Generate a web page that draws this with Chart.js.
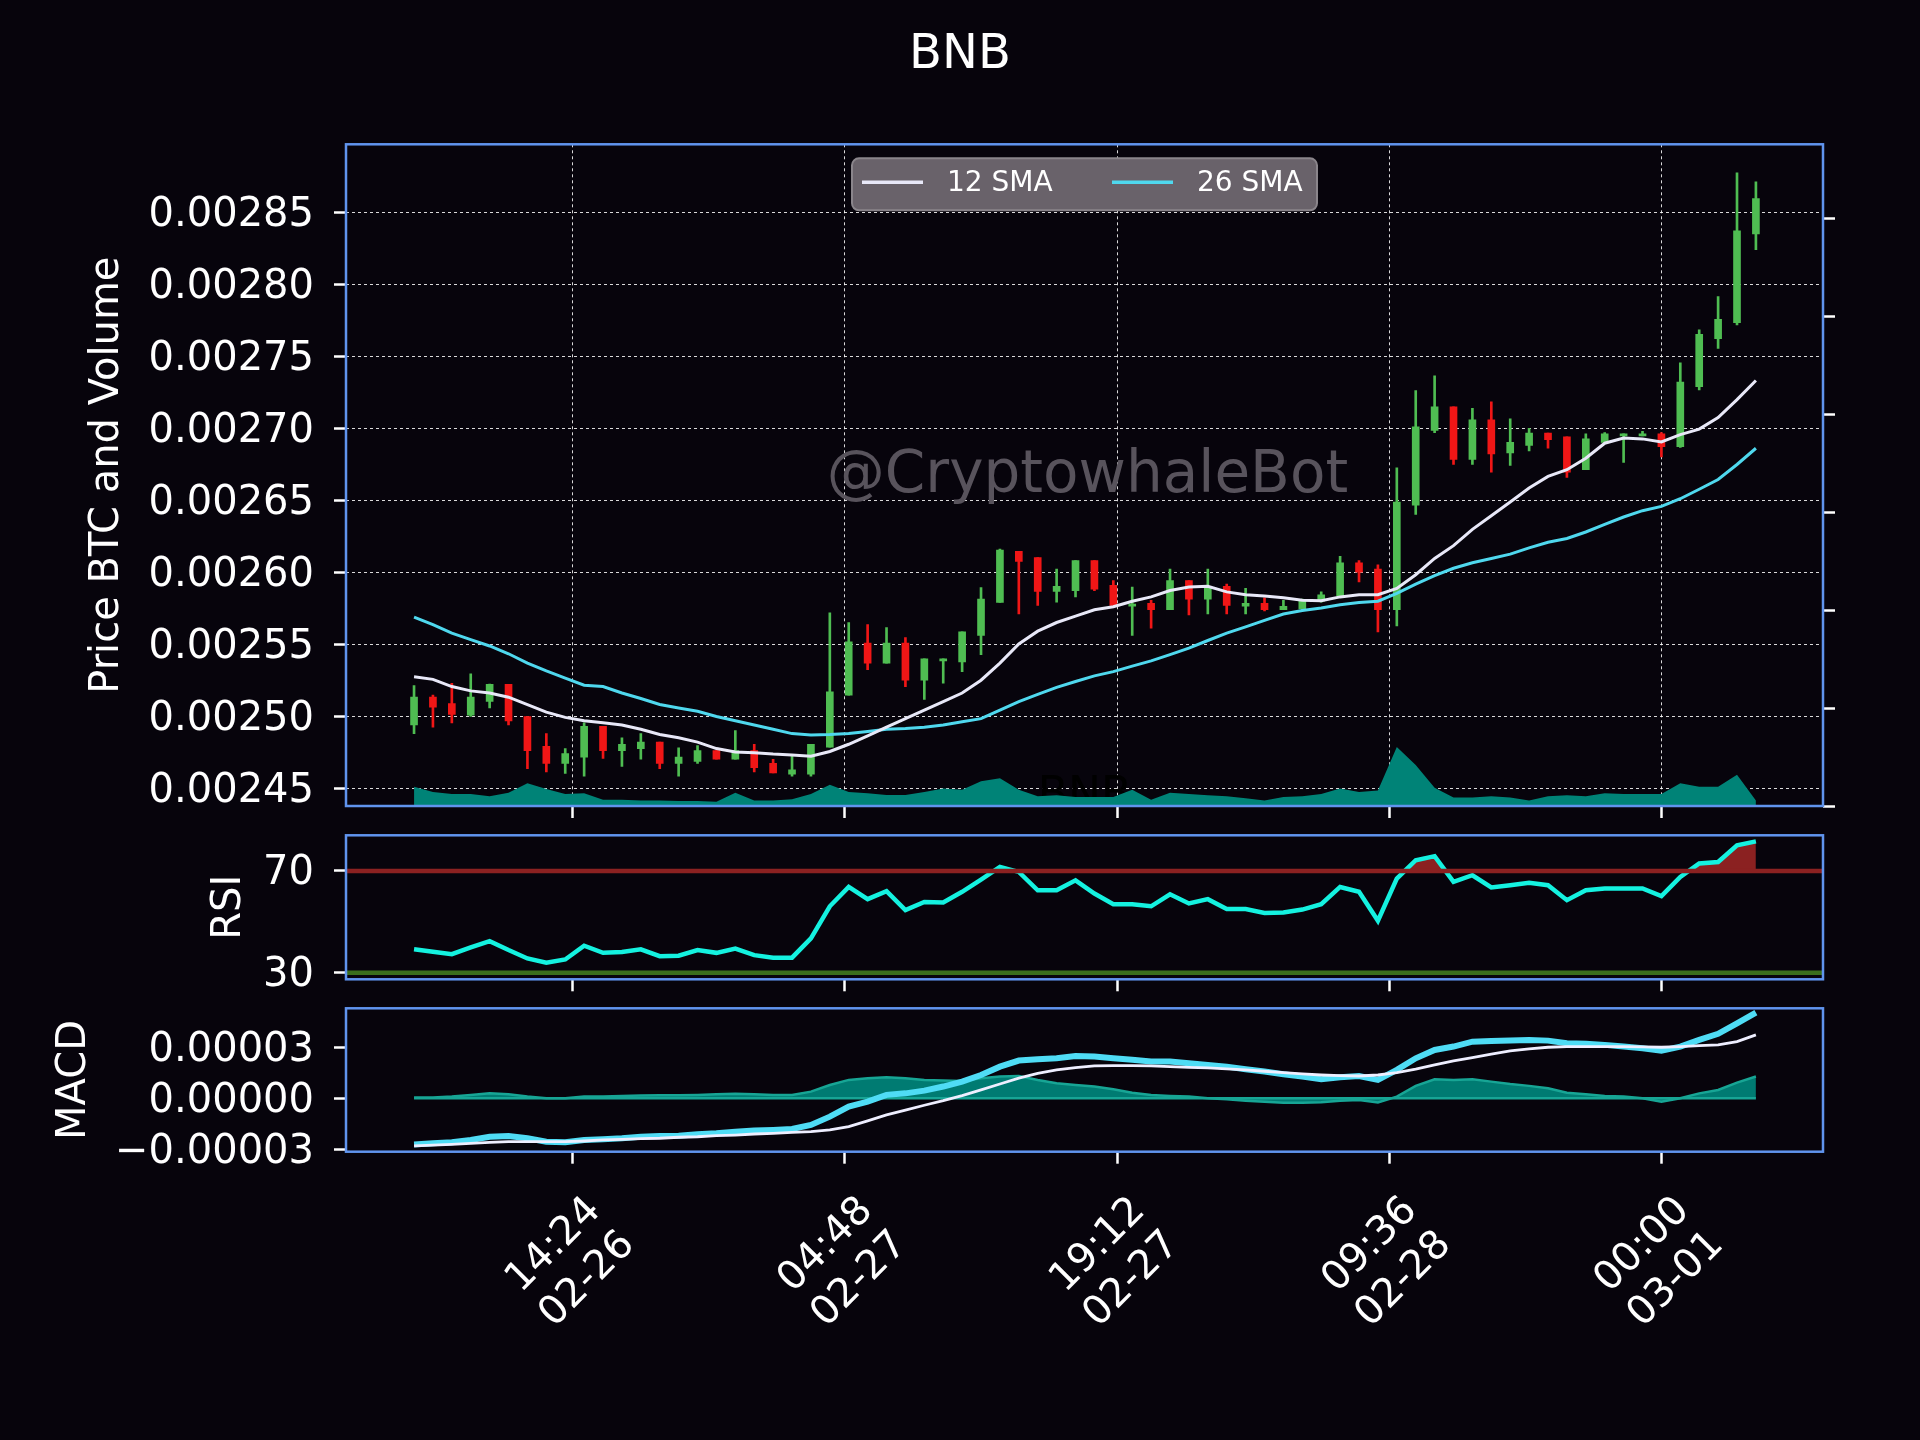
<!DOCTYPE html>
<html>
<head>
<meta charset="utf-8">
<script src="https://cdn.jsdelivr.net/npm/chart.js@4.4.0/dist/chart.umd.min.js"></script>
<style>
  body { margin: 0; background: #07040c; }
  #wrap { position: relative; width: 1920px; height: 1440px; background: #07040c; }
  canvas { position: absolute; left: 0; }
</style>
</head>
<body>
<div id="wrap">
  <canvas id="priceChart" width="1920" height="830" style="top:0"></canvas>
  <canvas id="rsiChart" width="1920" height="170" style="top:830px"></canvas>
  <canvas id="macdChart" width="1920" height="440" style="top:1000px"></canvas>
</div>
<script>
const times = [
  '02-26 06:00', '02-26 07:00', '02-26 08:00', '02-26 09:00', '02-26 10:00', '02-26 11:00',
  '02-26 12:00', '02-26 13:00', '02-26 14:00', '02-26 15:00', '02-26 16:00', '02-26 17:00',
  '02-26 18:00', '02-26 19:00', '02-26 20:00', '02-26 21:00', '02-26 22:00', '02-26 23:00',
  '02-27 00:00', '02-27 01:00', '02-27 02:00', '02-27 03:00', '02-27 04:00', '02-27 05:00',
  '02-27 06:00', '02-27 07:00', '02-27 08:00', '02-27 09:00', '02-27 10:00', '02-27 11:00',
  '02-27 12:00', '02-27 13:00', '02-27 14:00', '02-27 15:00', '02-27 16:00', '02-27 17:00',
  '02-27 18:00', '02-27 19:00', '02-27 20:00', '02-27 21:00', '02-27 22:00', '02-27 23:00',
  '02-28 00:00', '02-28 01:00', '02-28 02:00', '02-28 03:00', '02-28 04:00', '02-28 05:00',
  '02-28 06:00', '02-28 07:00', '02-28 08:00', '02-28 09:00', '02-28 10:00', '02-28 11:00',
  '02-28 12:00', '02-28 13:00', '02-28 14:00', '02-28 15:00', '02-28 16:00', '02-28 17:00',
  '02-28 18:00', '02-28 19:00', '02-28 20:00', '02-28 21:00', '02-28 22:00', '02-28 23:00',
  '03-01 00:00', '03-01 01:00', '03-01 02:00', '03-01 03:00', '03-01 04:00', '03-01 05:00'
];

const open = [
  0.0024940, 0.0025133, 0.0025088, 0.0025008, 0.0025103, 0.0025222, 0.0024999, 0.0024791, 0.0024673, 0.0024717, 0.0024931, 0.0024762,
  0.0024776, 0.0024821, 0.0024673, 0.0024687, 0.0024762, 0.0024702, 0.0024762, 0.0024673, 0.0024598, 0.0024598, 0.0024785, 0.0025147,
  0.0025509, 0.0025370, 0.0025509, 0.0025251, 0.0025385, 0.0025379, 0.0025563, 0.0025791, 0.0026147, 0.0026103, 0.0025868, 0.0025874,
  0.0026082, 0.0025910, 0.0025765, 0.0025785, 0.0025741, 0.0025943, 0.0025815, 0.0025904, 0.0025765, 0.0025785, 0.0025741, 0.0025747,
  0.0025800, 0.0025836, 0.0026067, 0.0026023, 0.0025741, 0.0026468, 0.0026987, 0.0027150, 0.0026785, 0.0027061, 0.0026830, 0.0026883,
  0.0026969, 0.0026943, 0.0026714, 0.0026904, 0.0026949, 0.0026949, 0.0026963, 0.0026874, 0.0027290, 0.0027625, 0.0027735, 0.0028352
];
const high = [
  0.0025213, 0.0025147, 0.0025230, 0.0025296, 0.0025225, 0.0025222, 0.0024999, 0.0024880, 0.0024776, 0.0024955, 0.0024931, 0.0024851,
  0.0024880, 0.0024821, 0.0024782, 0.0024797, 0.0024762, 0.0024901, 0.0024806, 0.0024702, 0.0024732, 0.0024806, 0.0025720, 0.0025652,
  0.0025637, 0.0025616, 0.0025548, 0.0025400, 0.0025400, 0.0025587, 0.0025895, 0.0026162, 0.0026147, 0.0026103, 0.0026023, 0.0026082,
  0.0026082, 0.0025943, 0.0025898, 0.0025806, 0.0026023, 0.0025943, 0.0026023, 0.0025919, 0.0025889, 0.0025824, 0.0025806, 0.0025815,
  0.0025865, 0.0026112, 0.0026082, 0.0026052, 0.0026726, 0.0027263, 0.0027367, 0.0027150, 0.0027141, 0.0027186, 0.0027067, 0.0027002,
  0.0026969, 0.0026943, 0.0026963, 0.0026972, 0.0026963, 0.0026981, 0.0026972, 0.0027456, 0.0027685, 0.0027916, 0.0028777, 0.0028714
];
const low = [
  0.0024880, 0.0024925, 0.0024955, 0.0024999, 0.0025058, 0.0024940, 0.0024637, 0.0024613, 0.0024604, 0.0024584, 0.0024708, 0.0024652,
  0.0024702, 0.0024637, 0.0024584, 0.0024673, 0.0024702, 0.0024702, 0.0024613, 0.0024607, 0.0024584, 0.0024584, 0.0024785, 0.0025147,
  0.0025325, 0.0025370, 0.0025207, 0.0025118, 0.0025230, 0.0025311, 0.0025429, 0.0025791, 0.0025711, 0.0025771, 0.0025794, 0.0025830,
  0.0025874, 0.0025771, 0.0025563, 0.0025613, 0.0025741, 0.0025705, 0.0025711, 0.0025711, 0.0025711, 0.0025732, 0.0025741, 0.0025741,
  0.0025794, 0.0025836, 0.0025934, 0.0025587, 0.0025628, 0.0026403, 0.0026972, 0.0026750, 0.0026750, 0.0026696, 0.0026744, 0.0026845,
  0.0026863, 0.0026661, 0.0026714, 0.0026904, 0.0026765, 0.0026949, 0.0026803, 0.0026868, 0.0027269, 0.0027557, 0.0027720, 0.0028242
];
const close = [
  0.0025133, 0.0025064, 0.0025014, 0.0025133, 0.0025222, 0.0024969, 0.0024762, 0.0024673, 0.0024741, 0.0024931, 0.0024762, 0.0024806,
  0.0024821, 0.0024673, 0.0024717, 0.0024762, 0.0024702, 0.0024762, 0.0024643, 0.0024607, 0.0024628, 0.0024806, 0.0025171, 0.0025518,
  0.0025370, 0.0025509, 0.0025251, 0.0025400, 0.0025400, 0.0025587, 0.0025815, 0.0026156, 0.0026076, 0.0025868, 0.0025904, 0.0026082,
  0.0025883, 0.0025771, 0.0025780, 0.0025741, 0.0025943, 0.0025815, 0.0025904, 0.0025771, 0.0025785, 0.0025741, 0.0025765, 0.0025800,
  0.0025845, 0.0026067, 0.0026002, 0.0025741, 0.0026489, 0.0027011, 0.0027150, 0.0026785, 0.0027061, 0.0026824, 0.0026904, 0.0026969,
  0.0026922, 0.0026696, 0.0026928, 0.0026963, 0.0026963, 0.0026963, 0.0026874, 0.0027322, 0.0027655, 0.0027759, 0.0028373, 0.0028598
];
const sma12 = [
  0.0025275, 0.0025257, 0.0025207, 0.0025177, 0.0025162, 0.0025133, 0.0025082, 0.0025029, 0.0024993, 0.0024969, 0.0024955, 0.0024940,
  0.0024910, 0.0024874, 0.0024851, 0.0024821, 0.0024776, 0.0024753, 0.0024747, 0.0024738, 0.0024732, 0.0024723, 0.0024756, 0.0024806,
  0.0024865, 0.0024925, 0.0024984, 0.0025044, 0.0025103, 0.0025162, 0.0025251, 0.0025370, 0.0025503, 0.0025592, 0.0025652, 0.0025696,
  0.0025741, 0.0025762, 0.0025800, 0.0025830, 0.0025874, 0.0025898, 0.0025904, 0.0025865, 0.0025845, 0.0025836, 0.0025824, 0.0025806,
  0.0025803, 0.0025830, 0.0025845, 0.0025845, 0.0025889, 0.0025984, 0.0026097, 0.0026186, 0.0026299, 0.0026394, 0.0026489, 0.0026587,
  0.0026667, 0.0026714, 0.0026794, 0.0026898, 0.0026934, 0.0026928, 0.0026907, 0.0026958, 0.0026996, 0.0027076, 0.0027201, 0.0027334
];
const sma26 = [
  0.0025690, 0.0025637, 0.0025578, 0.0025533, 0.0025489, 0.0025435, 0.0025370, 0.0025316, 0.0025266, 0.0025216, 0.0025207, 0.0025162,
  0.0025124, 0.0025082, 0.0025058, 0.0025035, 0.0024999, 0.0024969, 0.0024940, 0.0024910, 0.0024880, 0.0024871, 0.0024874, 0.0024880,
  0.0024895, 0.0024910, 0.0024916, 0.0024925, 0.0024940, 0.0024963, 0.0024984, 0.0025044, 0.0025103, 0.0025153, 0.0025201, 0.0025242,
  0.0025281, 0.0025311, 0.0025349, 0.0025385, 0.0025429, 0.0025474, 0.0025527, 0.0025578, 0.0025622, 0.0025667, 0.0025711, 0.0025735,
  0.0025753, 0.0025776, 0.0025791, 0.0025800, 0.0025854, 0.0025919, 0.0025978, 0.0026029, 0.0026067, 0.0026097, 0.0026127, 0.0026171,
  0.0026210, 0.0026236, 0.0026281, 0.0026334, 0.0026385, 0.0026429, 0.0026459, 0.0026512, 0.0026578, 0.0026646, 0.0026750, 0.0026863
];
const volume = [
  19.6, 14.4, 12.2, 12.2, 10.0, 13.5, 23.1, 17.4, 12.2, 13.1, 6.5, 6.5,
  5.7, 5.7, 5.2, 5.2, 4.4, 13.5, 5.7, 5.7, 7.0, 12.2, 21.8, 14.4,
  13.1, 11.3, 11.3, 14.4, 17.9, 16.6, 25.3, 28.3, 16.6, 10.0, 10.9, 9.2,
  9.2, 9.2, 16.6, 6.5, 13.5, 12.2, 10.9, 10.0, 7.8, 5.7, 9.2, 10.0,
  12.2, 17.9, 14.4, 15.7, 60.2, 41.9, 18.7, 8.7, 8.7, 10.0, 8.7, 5.7,
  10.0, 10.9, 10.0, 13.1, 12.2, 12.2, 12.2, 23.1, 19.6, 19.6, 31.8, 5.7
];
const rsi = [
  39.2, 38.2, 37.3, 39.9, 42.4, 38.9, 35.6, 33.9, 35.2, 40.6, 37.8, 38.1,
  39.2, 36.5, 36.7, 38.9, 37.8, 39.5, 36.9, 35.9, 35.9, 43.5, 56.1, 63.7,
  58.9, 62.0, 54.6, 57.8, 57.6, 61.8, 66.6, 71.6, 69.6, 62.4, 62.4, 66.3,
  61.1, 56.9, 56.9, 56.1, 60.8, 57.2, 58.9, 55.0, 55.0, 53.5, 53.7, 54.8,
  56.9, 63.7, 61.8, 50.4, 67.0, 74.2, 75.8, 65.7, 68.3, 63.5, 64.4, 65.3,
  64.4, 58.5, 62.4, 63.1, 63.1, 63.1, 60.1, 67.6, 72.9, 73.5, 80.1, 81.6
];
const macd = [
  -2.71e-5, -2.65e-5, -2.59e-5, -2.45e-5, -2.26e-5, -2.22e-5, -2.35e-5, -2.55e-5, -2.59e-5, -2.45e-5, -2.41e-5, -2.35e-5,
  -2.26e-5, -2.22e-5, -2.20e-5, -2.12e-5, -2.06e-5, -1.96e-5, -1.90e-5, -1.86e-5, -1.80e-5, -1.57e-5, -1.08e-5, -0.49e-5,
  -0.20e-5, 0.20e-5, 0.29e-5, 0.45e-5, 0.69e-5, 0.98e-5, 1.37e-5, 1.86e-5, 2.22e-5, 2.29e-5, 2.35e-5, 2.49e-5,
  2.45e-5, 2.35e-5, 2.26e-5, 2.16e-5, 2.16e-5, 2.06e-5, 1.96e-5, 1.86e-5, 1.71e-5, 1.57e-5, 1.41e-5, 1.28e-5,
  1.12e-5, 1.24e-5, 1.31e-5, 1.08e-5, 1.67e-5, 2.35e-5, 2.84e-5, 3.04e-5, 3.33e-5, 3.37e-5, 3.39e-5, 3.43e-5,
  3.39e-5, 3.24e-5, 3.20e-5, 3.14e-5, 3.04e-5, 2.94e-5, 2.80e-5, 3.04e-5, 3.43e-5, 3.79e-5, 4.41e-5, 5.04e-5
];
const signal = [
  -2.80e-5, -2.75e-5, -2.71e-5, -2.65e-5, -2.59e-5, -2.55e-5, -2.55e-5, -2.55e-5, -2.55e-5, -2.51e-5, -2.45e-5, -2.41e-5,
  -2.37e-5, -2.35e-5, -2.29e-5, -2.26e-5, -2.20e-5, -2.16e-5, -2.10e-5, -2.06e-5, -2.00e-5, -1.96e-5, -1.86e-5, -1.67e-5,
  -1.33e-5, -0.98e-5, -0.69e-5, -0.41e-5, -0.14e-5, 0.16e-5, 0.49e-5, 0.84e-5, 1.18e-5, 1.47e-5, 1.67e-5, 1.80e-5,
  1.90e-5, 1.92e-5, 1.92e-5, 1.90e-5, 1.86e-5, 1.82e-5, 1.79e-5, 1.73e-5, 1.67e-5, 1.59e-5, 1.51e-5, 1.43e-5,
  1.37e-5, 1.33e-5, 1.31e-5, 1.37e-5, 1.51e-5, 1.71e-5, 1.96e-5, 2.20e-5, 2.39e-5, 2.59e-5, 2.79e-5, 2.90e-5,
  3.00e-5, 3.04e-5, 3.04e-5, 3.04e-5, 3.04e-5, 3.02e-5, 3.00e-5, 3.04e-5, 3.10e-5, 3.14e-5, 3.33e-5, 3.73e-5
];
const hist = [
  0.04e-5, 0.04e-5, 0.10e-5, 0.20e-5, 0.29e-5, 0.24e-5, 0.10e-5, 0, 0, 0.10e-5, 0.10e-5, 0.14e-5,
  0.16e-5, 0.18e-5, 0.18e-5, 0.20e-5, 0.24e-5, 0.26e-5, 0.24e-5, 0.20e-5, 0.20e-5, 0.39e-5, 0.78e-5, 1.08e-5,
  1.18e-5, 1.24e-5, 1.18e-5, 1.08e-5, 1.04e-5, 1.02e-5, 1.18e-5, 1.28e-5, 1.31e-5, 1.08e-5, 0.88e-5, 0.78e-5,
  0.69e-5, 0.53e-5, 0.33e-5, 0.20e-5, 0.14e-5, 0.10e-5, 0, -0.06e-5, -0.14e-5, -0.20e-5, -0.26e-5, -0.26e-5,
  -0.24e-5, -0.14e-5, -0.10e-5, -0.24e-5, 0.10e-5, 0.73e-5, 1.12e-5, 1.08e-5, 1.12e-5, 0.98e-5, 0.84e-5, 0.73e-5,
  0.59e-5, 0.33e-5, 0.24e-5, 0.14e-5, 0.10e-5, 0, -0.20e-5, 0, 0.29e-5, 0.49e-5, 0.92e-5, 1.28e-5
];

const tickTimes = ['02-26 14:24', '02-27 04:48', '02-27 19:12', '02-28 09:36', '03-01 00:00'];
const priceTicks = [0.00245, 0.0025, 0.00255, 0.0026, 0.00265, 0.0027, 0.00275, 0.0028, 0.00285];
const volumeTicks = [0, 100, 200, 300, 400, 500, 600];
const rsiTicks = [30, 70];
const macdTicks = [-0.00003, 0, 0.00003];
const legendLabels = ['12 SMA', '26 SMA'];

// hours since 02-26 00:00
const dayStart = { '02-26': 0, '02-27': 24, '02-28': 48, '03-01': 72 };
const hourOf = t => dayStart[t.slice(0, 5)] + Number(t.slice(6, 8)) + Number(t.slice(9, 11)) / 60;
const xs = times.map(hourOf);
const tickHours = tickTimes.map(hourOf);
const tickLabels = tickTimes.map(t => [t.slice(6), t.slice(0, 5)]);
const xMin = 2.4, xMax = 80.55;

const pts = arr => xs.map((x, i) => ({ x, y: arr[i] }));

Chart.defaults.font.family = "'DejaVu Sans', sans-serif";
Chart.defaults.color = '#ffffff';
Chart.defaults.animation = false;
Chart.defaults.elements.point.radius = 0;
Chart.defaults.plugins.legend.display = false;
Chart.defaults.plugins.tooltip.enabled = false;

const FRAME = '#6094ee';
const GREEN = '#4fbd52';
const RED = '#f01616';
const candleColors = close.map((c, i) => c >= open[i] ? GREEN : RED);

const frame = {
  id: 'frame',
  afterDraw(chart) {
    const { ctx, chartArea: a } = chart;
    ctx.save();
    ctx.strokeStyle = FRAME;
    ctx.lineWidth = 2.5;
    ctx.strokeRect(a.left, a.top, a.right - a.left, a.bottom - a.top);
    ctx.restore();
  }
};

const marks = {
  id: 'marks',
  beforeDatasetsDraw(chart) {
    const { ctx, chartArea: a } = chart;
    const cx = (a.left + a.right) / 2;
    ctx.save();
    ctx.beginPath();
    ctx.rect(a.left, a.top, a.right - a.left, a.bottom - a.top);
    ctx.clip();
    ctx.textAlign = 'center';
    ctx.textBaseline = 'alphabetic';
    ctx.fillStyle = '#58535c';
    ctx.font = "58px 'DejaVu Sans'";
    ctx.fillText('@CryptowhaleBot', cx + 3, a.top + 348);
    ctx.fillStyle = '#000000';
    ctx.font = "44px 'DejaVu Sans'";
    ctx.fillText('BNB', cx, a.bottom + 2);
    ctx.restore();
  }
};

const smaLegend = {
  id: 'smaLegend',
  afterDatasetsDraw(chart) {
    const { ctx, chartArea: a } = chart;
    const w = 465, h = 52;
    const x0 = (a.left + a.right) / 2 - w / 2, y0 = a.top + 14;
    ctx.save();
    ctx.beginPath();
    ctx.roundRect(x0, y0, w, h, 7);
    ctx.fillStyle = '#69626a';
    ctx.fill();
    ctx.lineWidth = 2;
    ctx.strokeStyle = '#8a858b';
    ctx.stroke();
    ctx.font = "28px 'DejaVu Sans'";
    ctx.textBaseline = 'middle';
    ctx.textAlign = 'left';
    legendLabels.forEach((lbl, i) => {
      const ds = chart.data.datasets.find(d => d.label === lbl);
      const lx = x0 + 10 + i * 250, ly = y0 + 24;
      ctx.strokeStyle = ds.borderColor;
      ctx.lineWidth = 3.5;
      ctx.beginPath();
      ctx.moveTo(lx, ly);
      ctx.lineTo(lx + 61, ly);
      ctx.stroke();
      ctx.fillStyle = '#ffffff';
      ctx.fillText(lbl, lx + 85, ly + 1);
    });
    ctx.restore();
  }
};

const setTicks = list => scale => { scale.ticks = list.map(v => ({ value: v })); };
const fixWidth = w => s => { s.width = w; s.paddingTop = 0; s.paddingBottom = 0; };
const fixHeight = h => s => { s.height = h; s.paddingLeft = 0; s.paddingRight = 0; };

const tickGrid = { drawOnChartArea: false, tickLength: 12, tickWidth: 2.5, tickColor: '#ffffff', offset: false };
const dotGrid = { color: 'rgba(255,255,255,0.85)', lineWidth: 1, tickLength: 12, tickWidth: 2.5, tickColor: '#ffffff', offset: false };
const axisTitle = (text, pad) => ({ display: true, text, color: '#ffffff', font: { size: 40 }, padding: { top: pad, bottom: 0 } });
const yTickFont = { color: '#ffffff', font: { size: 40 }, padding: 20, labelOffset: 3 };

// price, volume and moving averages
new Chart(document.getElementById('priceChart'), {
  type: 'bar',
  data: {
    datasets: [
      {
        type: 'line', label: 'Volume', data: pts(volume), yAxisID: 'yVol',
        fill: 'origin', backgroundColor: '#008377', borderWidth: 0, order: 5
      },
      {
        label: 'Wick', data: xs.map((x, i) => ({ x, y: [low[i], high[i]] })),
        backgroundColor: candleColors, barThickness: 2, grouped: false, order: 4
      },
      {
        label: 'Body', data: xs.map((x, i) => ({ x, y: [open[i], close[i]] })),
        backgroundColor: candleColors, barThickness: 7, minBarLength: 2, grouped: false, order: 3
      },
      {
        type: 'line', label: '26 SMA', data: pts(sma26),
        borderColor: '#4fd8ee', borderWidth: 3, order: 2
      },
      {
        type: 'line', label: '12 SMA', data: pts(sma12),
        borderColor: '#e8e8f8', borderWidth: 3, order: 1
      }
    ]
  },
  options: {
    responsive: false,
    devicePixelRatio: 1,
    layout: { autoPadding: false, padding: 0 },
    plugins: {
      title: {
        display: true, text: 'BNB', color: '#ffffff',
        font: { size: 48, weight: 'normal' }, padding: { top: 27, bottom: 59.7 }
      }
    },
    scales: {
      x: {
        type: 'linear', min: xMin, max: xMax, offset: false,
        afterBuildTicks: setTicks(tickHours),
        afterFit: fixHeight(24),
        ticks: { display: false },
        grid: dotGrid,
        border: { display: false, dash: [3, 3] }
      },
      y: {
        position: 'left', min: 0.0024377, max: 0.0028975, beginAtZero: false,
        afterBuildTicks: setTicks(priceTicks),
        afterFit: fixWidth(346),
        ticks: { ...yTickFont, callback: v => v.toFixed(5) },
        grid: dotGrid,
        border: { display: false, dash: [3, 3] },
        title: axisTitle('Price BTC and Volume', 84)
      },
      yVol: {
        position: 'right', min: 0, max: 675.5,
        afterBuildTicks: setTicks(volumeTicks),
        afterFit: fixWidth(97),
        ticks: { display: false },
        grid: tickGrid,
        border: { display: false }
      }
    }
  },
  plugins: [marks, smaLegend, frame]
});

// RSI
new Chart(document.getElementById('rsiChart'), {
  type: 'line',
  data: {
    datasets: [
      {
        label: 'RSI', data: pts(rsi), borderColor: '#14f2e0', borderWidth: 4.5, order: 3,
        fill: { target: { value: 70 }, above: '#8b2121', below: 'rgba(0,0,0,0)' }
      },
      {
        label: 'Overbought', data: [{ x: xMin, y: 70 }, { x: xMax, y: 70 }],
        borderColor: '#8b2121', borderWidth: 4.5, order: 1
      },
      {
        label: 'Oversold', data: [{ x: xMin, y: 30 }, { x: xMax, y: 30 }],
        borderColor: '#3a6e1c', borderWidth: 4.5, order: 2
      }
    ]
  },
  options: {
    responsive: false,
    devicePixelRatio: 1,
    layout: { autoPadding: false, padding: { top: 5.3, right: 97, left: 0, bottom: 0 } },
    scales: {
      x: {
        type: 'linear', min: xMin, max: xMax,
        afterBuildTicks: setTicks(tickHours),
        afterFit: fixHeight(20.7),
        ticks: { display: false },
        grid: tickGrid,
        border: { display: false }
      },
      y: {
        min: 27.4, max: 84,
        afterBuildTicks: setTicks(rsiTicks),
        afterFit: fixWidth(346),
        ticks: { ...yTickFont, callback: v => String(v) },
        grid: tickGrid,
        border: { display: false },
        title: axisTitle('RSI', 206)
      }
    }
  },
  plugins: [frame]
});

// MACD
new Chart(document.getElementById('macdChart'), {
  type: 'line',
  data: {
    datasets: [
      {
        label: 'Histogram', data: pts(hist), fill: 'origin',
        backgroundColor: 'rgba(0,130,120,0.95)', borderColor: '#17a595', borderWidth: 2.5, order: 4
      },
      {
        label: 'Zero', data: [{ x: xs[0], y: 0 }, { x: xs[xs.length - 1], y: 0 }],
        borderColor: '#17a595', borderWidth: 2.5, order: 3
      },
      { label: 'MACD', data: pts(macd), borderColor: '#4fdcf5', borderWidth: 6, order: 2 },
      { label: 'Signal', data: pts(signal), borderColor: '#eeeeff', borderWidth: 2.8, order: 1 }
    ]
  },
  options: {
    responsive: false,
    devicePixelRatio: 1,
    layout: { autoPadding: false, padding: { top: 8.3, right: 97, left: 0, bottom: 0 } },
    scales: {
      x: {
        type: 'linear', min: xMin, max: xMax,
        afterBuildTicks: setTicks(tickHours),
        afterFit: fixHeight(288.3),
        ticks: {
          color: '#ffffff', font: { size: 40 }, autoSkip: false,
          maxRotation: 45, minRotation: 45, padding: 24, labelOffset: 22,
          callback: (v, i) => tickLabels[i]
        },
        grid: tickGrid,
        border: { display: false }
      },
      y: {
        min: -0.0000314, max: 0.0000529,
        afterBuildTicks: setTicks(macdTicks),
        afterFit: fixWidth(346),
        ticks: { ...yTickFont, callback: v => (v < 0 ? '\u2212' : '') + Math.abs(v).toFixed(5) },
        grid: tickGrid,
        border: { display: false },
        title: axisTitle('MACD', 51)
      }
    }
  },
  plugins: [frame]
});
</script>
</body>
</html>
